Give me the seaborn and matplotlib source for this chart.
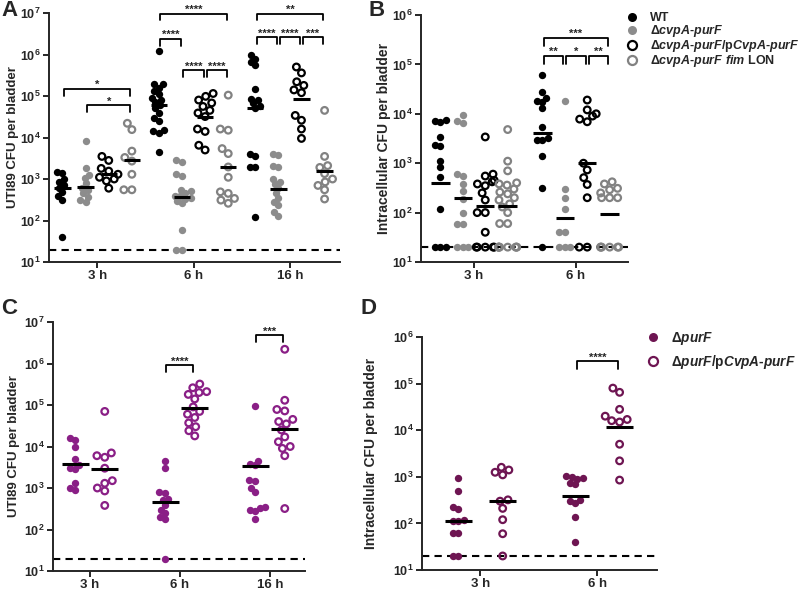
import warnings
import pandas as pd
import seaborn as sns
import matplotlib.pyplot as plt
from matplotlib.lines import Line2D
from matplotlib.ticker import NullLocator

warnings.filterwarnings("ignore")

# categories
times_a = ["3 h", "6 h", "16 h"]
times_b = ["3 h", "6 h"]
strains_ab = ["WT", "dcvpA", "dcvpA/pCvpA", "dcvpA fim LON"]
strains_cd = ["dpurF", "dpurF/pCvpA"]
legend_ab = ["WT", r"Δ$\mathit{cvpA}$-$\mathit{purF}$",
             r"Δ$\mathit{cvpA}$-$\mathit{purF}$/p$\mathit{CvpA}$-$\mathit{purF}$",
             r"Δ$\mathit{cvpA}$-$\mathit{purF\ fim}$ LON"]
legend_cd = [r"Δ$\mathit{purF}$", r"Δ$\mathit{purF}$/p$\mathit{CvpA}$-$\mathit{purF}$"]

# panel A - UTI89 CFU per bladder
a_wt_3h = [1500, 1400, 1000, 850, 700, 600, 480, 380, 320, 40]
a_del_3h = [8300, 1850, 1250, 1050, 780, 600, 540, 450, 370, 310, 280]
a_comp_3h = [3500, 2800, 1800, 1550, 1300, 1100, 1000, 900, 600]
a_lon_3h = [22000, 15500, 4700, 3300, 2700, 1300, 550, 550]
a_wt_6h = [1.2e6, 2.0e5, 1.9e5, 1.6e5, 1.3e5, 1.1e5, 9e4, 8e4, 7e4, 6e4, 5e4, 4e4,
           3e4, 2.5e4, 1.5e4, 1.4e4, 1.3e4, 4.5e3]
a_del_6h = [2800, 2600, 1300, 1200, 550, 500, 450, 400, 380, 350, 330, 300, 260, 60, 20, 20]
a_comp_6h = [1.15e5, 9.8e4, 8e4, 6.8e4, 5.6e4, 4.5e4, 3.9e4, 3.2e4, 1.6e4, 1.4e4, 6.5e3, 5e3]
a_lon_6h = [1.05e5, 1.6e4, 1.5e4, 5.4e3, 4.1e3, 1.95e3, 1.1e3, 490, 450, 340, 310, 260]
a_wt_16h = [9.5e5, 8e5, 6.6e5, 5.5e5, 1.5e5, 8.7e4, 7.9e4, 6.6e4, 5.6e4, 5e4, 4e3, 3.5e3,
            2e3, 1.9e3, 120]
a_del_16h = [4e3, 3.8e3, 2.1e3, 2e3, 1e3, 850, 750, 600, 450, 340, 280, 230, 160, 130]
a_comp_16h = [5e5, 3.6e5, 2.2e5, 1.8e5, 1.4e5, 1.2e5, 3.4e4, 2.6e4, 1.6e4, 9.5e3]
a_lon_16h = [4.5e4, 3.5e3, 2.1e3, 1.9e3, 1.35e3, 1e3, 850, 700, 550, 330]
a_med_wt = [600, 60000, 52000]
a_med_del = [650, 370, 580]
a_med_comp = [1300, 32000, 83000]
a_med_lon = [2800, 2000, 1550]
a_brackets = [(0, 0, 3, 1.5e5, "*"), (0, 1, 3, 6e4, "*"),
              (1, 0, 3, 9.7e6, "****"), (1, 0, 1, 2.4e6, "****"),
              (1, 1, 2, 4.2e5, "****"), (1, 2, 3, 4.2e5, "****"),
              (2, 0, 3, 9.7e6, "**"), (2, 0, 1, 2.6e6, "****"),
              (2, 1, 2, 2.6e6, "****"), (2, 2, 3, 2.6e6, "***")]

# panel B - intracellular CFU per bladder
b_wt_3h = [7500, 7000, 6800, 3400, 2300, 2200, 1100, 850, 520, 120, 20, 20, 20]
b_del_3h = [9500, 7000, 6600, 600, 550, 380, 270, 190, 100, 60, 60, 20, 20, 20]
b_comp_3h = [3400, 600, 550, 450, 420, 380, 350, 250, 180, 100, 100, 40, 20, 20, 20, 20, 20]
b_lon_3h = [4800, 1100, 700, 400, 380, 360, 300, 260, 240, 200, 180, 150, 130, 100, 60, 60,
            20, 20, 20, 20, 20, 20, 20, 20]
b_wt_6h = [6e4, 2.7e4, 2.1e4, 1.8e4, 1.75e4, 1.3e4, 5.5e3, 3.2e3, 2.9e3, 2.9e3, 1.4e3, 320, 20]
b_del_6h = [1.8e4, 300, 200, 117, 40, 40, 20, 20, 20]
b_comp_6h = [1.9e4, 1.2e4, 1.0e4, 9e3, 7.8e3, 6.9e3, 1e3, 730, 510, 370, 200, 20, 20]
b_lon_6h = [420, 380, 310, 290, 250, 200, 200, 200, 20, 20, 20, 20, 20, 20]
b_med_wt = [400, 4000]
b_med_del = [195, 77]
b_med_comp = [138, 1000]
b_med_lon = [135, 94]
b_brackets = [(1, 0, 3, 3.5e5, "***"), (1, 0, 1, 1.5e5, "**"),
              (1, 1, 2, 1.5e5, "*"), (1, 2, 3, 1.5e5, "**")]

# panel C - UTI89 CFU per bladder
c_del_3h = [16000, 14500, 9500, 5000, 3500, 3000, 2800, 1300, 1000, 900]
c_comp_3h = [70000, 7000, 6000, 5500, 3000, 1500, 1300, 1000, 850, 380]
c_del_6h = [4400, 3000, 800, 750, 550, 500, 380, 300, 250, 200, 180, 20]
c_comp_6h = [3.2e5, 2.6e5, 2.1e5, 2e5, 1.8e5, 1.4e5, 9e4, 7e4, 6e4, 5e4, 3.7e4, 3e4, 2.4e4, 1.8e4]
c_del_16h = [9.5e4, 4.5e3, 3.8e3, 3.5e3, 1.6e3, 1.5e3, 1e3, 800, 350, 330, 300, 280, 180]
c_comp_16h = [2.2e6, 1.3e5, 7.8e4, 7.2e4, 4.5e4, 4e4, 3.5e4, 2.5e4, 1.7e4, 1.3e4, 1e4, 9e3,
              6e3, 320]
c_med_del = [3700, 450, 3300]
c_med_comp = [2900, 85000, 26000]
c_brackets = [(1, 0, 1, 9e5, "****"), (2, 0, 1, 4.8e6, "***")]

# panel D - intracellular CFU per bladder
d_del_3h = [950, 500, 220, 200, 120, 115, 110, 62, 62, 20, 20]
d_comp_3h = [1600, 1400, 1250, 1100, 320, 300, 210, 120, 60, 20]
d_del_6h = [1050, 1000, 950, 900, 750, 700, 320, 300, 280, 140, 40]
d_comp_6h = [80000, 65000, 28000, 20000, 17000, 16000, 15000, 5000, 2200, 850]
d_med_del = [115, 390]
d_med_comp = [310, 12000]
d_brackets = [(1, 0, 1, 3e5, "****")]

LOD = 20

styles_ab = [("black", False), ("#8c8c8c", False), ("black", True), ("#828282", True)]
purple_c = "#8a1f86"
purple_d = "#6e1552"
styles_c = [(purple_c, False), (purple_c, True)]
styles_d = [(purple_d, False), (purple_d, True)]

FILLED_MS, HOLLOW_MS, HOLLOW_LW, SWARM_MS = 5.3, 4.8, 1.6, 3.9


def frame(strains, times, values):
    rows = []
    for s, per_time in zip(strains, values):
        for t, vals in zip(times, per_time):
            rows += [(s, t, v) for v in vals]
    return pd.DataFrame(rows, columns=["strain", "time", "cfu"])


df_a = frame(strains_ab, times_a, [[a_wt_3h, a_wt_6h, a_wt_16h], [a_del_3h, a_del_6h, a_del_16h],
                                   [a_comp_3h, a_comp_6h, a_comp_16h], [a_lon_3h, a_lon_6h, a_lon_16h]])
df_b = frame(strains_ab, times_b, [[b_wt_3h, b_wt_6h], [b_del_3h, b_del_6h],
                                   [b_comp_3h, b_comp_6h], [b_lon_3h, b_lon_6h]])
df_c = frame(strains_cd, times_a, [[c_del_3h, c_del_6h, c_del_16h], [c_comp_3h, c_comp_6h, c_comp_16h]])
df_d = frame(strains_cd, times_b, [[d_del_3h, d_del_6h], [d_comp_3h, d_comp_6h]])

sns.set_style("ticks")
plt.rcParams["font.family"] = ["Liberation Sans", "DejaVu Sans"]
plt.rcParams["mathtext.fontset"] = "custom"
plt.rcParams["mathtext.rm"] = "Liberation Sans:bold"
plt.rcParams["mathtext.it"] = "Liberation Sans:italic:bold"
plt.rcParams["mathtext.bf"] = "Liberation Sans:bold"

fig = plt.figure(figsize=(8, 5.91), dpi=100)
swarms = []


def draw_panel(ax, df, times, strains, styles, sp, meds, brackets, top, half, xlim,
               ylabel, ylsize, labelpad):
    n = len(strains)
    off = {s: (i - (n - 1) / 2) * sp for i, s in enumerate(strains)}
    d = df.copy()
    d["pos"] = d["time"].map({t: k for k, t in enumerate(times)}) + d["strain"].map(off)
    k0 = len(ax.collections)
    sns.swarmplot(data=d, x="pos", y="cfu", hue="strain", hue_order=strains,
                  palette=[c for c, _ in styles], native_scale=True, size=SWARM_MS,
                  log_scale=(False, True), legend=False, ax=ax, zorder=3)
    for coll in ax.collections[k0:]:
        x = coll.get_offsets()[0, 0]
        i = int(round((x - round(x)) / sp + (n - 1) / 2))
        color, hollow = styles[i]
        if hollow:
            coll.set_facecolor("none")
            coll.set_edgecolor(color)
            coll.set_linewidth(HOLLOW_LW)
        else:
            coll.set_facecolor(color)
            coll.set_edgecolor(color)
            coll.set_linewidth(0)
        swarms.append((coll, hollow))
    for i in range(n):
        for t, m in enumerate(meds[i]):
            x = t + (i - (n - 1) / 2) * sp
            ax.hlines(m, x - half, x + half, color="black", lw=2.2, zorder=4)
    for t, i, j, y, label in brackets:
        x1 = t + (i - (n - 1) / 2) * sp + 0.015
        x2 = t + (j - (n - 1) / 2) * sp - 0.015
        y0 = y * 0.68
        ax.plot([x1, x1, x2, x2], [y0, y, y, y0], color="black", lw=1.3, clip_on=False, zorder=5)
        ax.annotate(label, ((x1 + x2) / 2, y), xytext=(0, -1), textcoords="offset points",
                    ha="center", va="bottom", fontsize=8, fontweight="bold",
                    annotation_clip=False)
    ax.axhline(LOD, color="black", lw=1.5, ls=(0, (3.5, 2.5)), zorder=1)
    ax.set_yscale("log")
    ax.set_ylim(10, top)
    ax.set_xlim(*xlim)
    exps = range(1, len(str(int(top))))
    ax.set_yticks([10 ** e for e in exps])
    ax.set_yticklabels([r"$\mathbf{10^{%d}}$" % e for e in exps], fontsize=9)
    ax.yaxis.set_minor_locator(NullLocator())
    ax.set_xticks(range(len(times)))
    ax.set_xticklabels(times, fontsize=9.5, fontweight="bold")
    ax.xaxis.set_minor_locator(NullLocator())
    ax.set_xlabel("")
    ax.set_ylabel(ylabel, fontsize=ylsize, fontweight="bold", labelpad=labelpad)
    ax.tick_params(width=1.4, length=4, pad=2)
    for sp_name in ["left", "bottom"]:
        ax.spines[sp_name].set_linewidth(1.4)
    sns.despine(ax=ax)


W, H = 800, 591


def box(l, r, t, b):
    return [l / W, 1 - b / H, (r - l) / W, (b - t) / H]


ax_a = fig.add_axes(box(49, 340, 13, 262))
ax_b = fig.add_axes(box(421, 628, 15, 262))
ax_c = fig.add_axes(box(53, 305, 322, 571))
ax_d = fig.add_axes(box(422, 657, 337, 570))

draw_panel(ax_a, df_a, times_a, strains_ab, styles_ab, 0.24,
           [a_med_wt, a_med_del, a_med_comp, a_med_lon], a_brackets,
           1e7, 0.085, (-0.5, 2.52), "UTI89 CFU per bladder", 9.5, 0.5)
draw_panel(ax_b, df_b, times_b, strains_ab, styles_ab, 0.22,
           [b_med_wt, b_med_del, b_med_comp, b_med_lon], b_brackets,
           1e6, 0.09, (-0.52, 1.51), "Intracellular CFU per bladder", 10, 0.5)
draw_panel(ax_c, df_c, times_a, strains_cd, styles_c, 0.33,
           [c_med_del, c_med_comp], c_brackets,
           1e7, 0.15, (-0.41, 2.39), "UTI89 CFU per bladder", 9.5, 3)
draw_panel(ax_d, df_d, times_b, strains_cd, styles_d, 0.38,
           [d_med_del, d_med_comp], d_brackets,
           1e6, 0.115, (-0.5, 1.51), "Intracellular CFU per bladder", 10, 11)


def handle(color, hollow):
    return Line2D([], [], ls="none", marker="o", ms=6.5,
                  mfc="none" if hollow else color, mec=color, mew=1.6 if hollow else 0)


ax_b.legend([handle(c, h) for c, h in styles_ab], legend_ab, loc="upper left",
            bbox_to_anchor=(626 / W, 1 - 12 / H), bbox_transform=fig.transFigure,
            frameon=False, borderpad=0, borderaxespad=0, handlelength=1.0,
            handletextpad=0.9, labelspacing=-0.08,
            prop={"size": 9, "weight": "bold"})
ax_d.legend([handle(c, h) for c, h in styles_d], legend_cd, loc="upper left",
            bbox_to_anchor=(646 / W, 1 - 330 / H), bbox_transform=fig.transFigure,
            frameon=False, borderpad=0, borderaxespad=0, handlelength=1.0,
            handletextpad=0.85, labelspacing=0.45,
            prop={"size": 9.8, "weight": "bold"})

for letter, x, y in [("A", 9, 10), ("B", 377, 10), ("C", 9, 308), ("D", 368, 308)]:
    fig.text(x / W, 1 - y / H, letter, fontsize=16, fontweight="bold", ha="center", va="center")

# lay the swarms out with a compact marker size, then draw the real markers
fig.canvas.draw()
for coll, hollow in swarms:
    if "draw" in coll.__dict__:
        del coll.draw
    coll.set_sizes([(HOLLOW_MS if hollow else FILLED_MS) ** 2])

fig.savefig("out.png", dpi=100)
